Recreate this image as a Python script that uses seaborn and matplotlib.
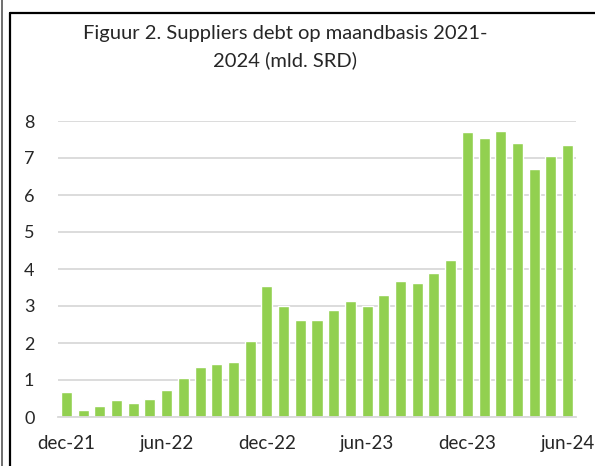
import matplotlib
matplotlib.use("Agg")
import matplotlib.pyplot as plt
import seaborn as sns
import pandas as pd
from matplotlib.lines import Line2D

# monthly suppliers debt, dec-21 .. jun-24 (mld. SRD)
months = ["dec-21", "jan-22", "feb-22", "mrt-22", "apr-22", "mei-22", "jun-22", "jul-22",
          "aug-22", "sep-22", "okt-22", "nov-22", "dec-22", "jan-23", "feb-23", "mrt-23",
          "apr-23", "mei-23", "jun-23", "jul-23", "aug-23", "sep-23", "okt-23", "nov-23",
          "dec-23", "jan-24", "feb-24", "mrt-24", "apr-24", "mei-24", "jun-24"]
debt = [0.67, 0.18, 0.31, 0.47, 0.38, 0.50, 0.72, 1.06, 1.34, 1.42, 1.50, 2.05, 3.54,
        2.99, 2.63, 2.61, 2.90, 3.13, 2.99, 3.30, 3.67, 3.61, 3.89, 4.24, 7.70, 7.55,
        7.73, 7.41, 6.71, 7.05, 7.34]
label_months = ["dec-21", "jun-22", "dec-22", "jun-23", "dec-23", "jun-24"]
y_ticks = [0, 1, 2, 3, 4, 5, 6, 7, 8]

df = pd.DataFrame({"month": months, "debt": debt})

sns.set_style("white")
plt.rcParams["font.family"] = ["Lato", "DejaVu Sans"]

fig = plt.figure(figsize=(5.95, 4.66), dpi=100)
ax = fig.add_axes([58 / 595, 1 - 417 / 466, (576 - 58) / 595, (417 - 121) / 466])

sns.barplot(data=df, x="month", y="debt", color="#92d050", saturation=1, width=0.66, ax=ax)

ax.set_ylim(0, 8)
ax.set_xlim(-0.5, len(months) - 0.5)
ax.set_yticks(y_ticks)
ax.set_yticklabels([str(v) for v in y_ticks], fontsize=13)
ax.yaxis.grid(True, color="#d9d9d9", linewidth=1.3)
ax.set_axisbelow(True)

pos = [months.index(m) for m in label_months]
ax.set_xticks(pos)
ax.set_xticklabels(label_months, fontsize=13.5)
ax.set_xticks([p - 0.5 for p in pos], minor=True)
ax.tick_params(axis="x", which="major", length=0, pad=13)
ax.tick_params(axis="x", which="minor", length=5, color="#d9d9d9", width=1.3)
ax.tick_params(axis="y", length=0, pad=17)
ax.set_xlabel("")
ax.set_ylabel("")

for s in ["top", "right", "left"]:
    ax.spines[s].set_visible(False)
ax.spines["bottom"].set_color("#d9d9d9")
ax.spines["bottom"].set_linewidth(1.3)

fig.text(285 / 595, 1 - 33 / 466, "Figuur 2. Suppliers debt op maandbasis 2021-",
         ha="center", va="center", fontsize=14.5)
fig.text(285 / 595, 1 - 60 / 466, "2024 (mld. SRD)", ha="center", va="center", fontsize=14.5)

# frame lines of the cropped chart box
fig.add_artist(Line2D([2 / 595, 2 / 595], [0, 1], color="#555555", lw=1.2))
fig.add_artist(Line2D([9.5 / 595, 9.5 / 595], [0, 1 - 12.5 / 466], color="black", lw=1.6))
fig.add_artist(Line2D([9.5 / 595, 1], [1 - 12.5 / 466, 1 - 12.5 / 466], color="black", lw=1.6))

plt.savefig("out.png", dpi=100)
